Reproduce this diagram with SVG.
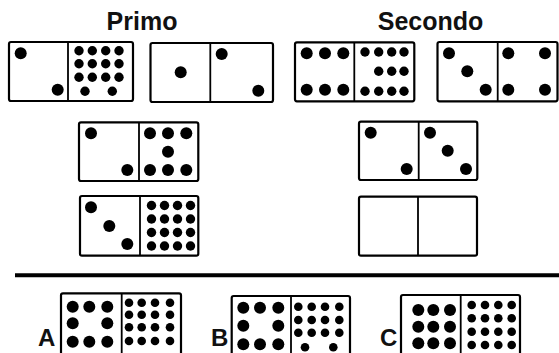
<svg xmlns="http://www.w3.org/2000/svg" width="559" height="353" viewBox="0 0 559 353">
<style>
.bg{fill:#fff}
.dom{fill:#fff;stroke:#000;stroke-width:2.2}
.dv{stroke:#000;stroke-width:1.8}
.t{font-family:"Liberation Sans",Arial,sans-serif;font-weight:bold;font-size:25px;fill:#111}
.lt{font-family:"Liberation Sans",Arial,sans-serif;font-weight:bold;font-size:24px;fill:#111}
circle{fill:#000}
.L circle{r:6px}
.S circle{r:4.7px}
.X circle{r:4.3px}
</style>
<rect class="bg" x="0" y="0" width="559" height="353"/>
<text class="t" x="142" y="30" text-anchor="middle">Primo</text>
<text class="t" x="430.5" y="30" text-anchor="middle">Secondo</text>

<g id="d1">
<rect class="dom" x="9" y="42" width="124" height="59" rx="2"/>
<line class="dv" x1="68" y1="42" x2="68" y2="101"/>
<g class="L"><circle cx="20.7" cy="53.3" r="6"/><circle cx="57.7" cy="89.7" r="6"/></g>
<g class="S">
<circle cx="79" cy="50.7" r="4.7"/><circle cx="92.3" cy="50.7" r="4.7"/><circle cx="105.7" cy="50.7" r="4.7"/><circle cx="119" cy="50.7" r="4.7"/>
<circle cx="79" cy="63.7" r="4.7"/><circle cx="92.3" cy="63.7" r="4.7"/><circle cx="105.7" cy="63.7" r="4.7"/><circle cx="119" cy="63.7" r="4.7"/>
<circle cx="79" cy="77.3" r="4.7"/><circle cx="92.3" cy="77.3" r="4.7"/><circle cx="105.7" cy="77.3" r="4.7"/><circle cx="119" cy="77.3" r="4.7"/>
<circle cx="85" cy="91.3" r="4.7"/><circle cx="112.3" cy="91.3" r="4.7"/>
</g>
</g>

<g id="d2">
<rect class="dom" x="150.5" y="43" width="122.5" height="59" rx="2"/>
<line class="dv" x1="210.3" y1="43" x2="210.3" y2="102"/>
<g class="L"><circle cx="180.7" cy="72.3" r="6"/><circle cx="221.7" cy="54" r="6"/><circle cx="258.3" cy="90.7" r="6"/></g>
</g>

<g id="d3">
<rect class="dom" x="295" y="42.3" width="119.3" height="59" rx="2"/>
<line class="dv" x1="354.3" y1="42.3" x2="354.3" y2="101.3"/>
<g class="L">
<circle cx="306.7" cy="53.3" r="6"/><circle cx="325" cy="53.3" r="6"/><circle cx="343.3" cy="53.3" r="6"/>
<circle cx="306.7" cy="89.7" r="6"/><circle cx="325" cy="89.7" r="6"/><circle cx="343.3" cy="89.7" r="6"/>
</g>
<g class="S">
<circle cx="365" cy="52" r="4.7"/><circle cx="378.7" cy="52" r="4.7"/><circle cx="391.7" cy="52" r="4.7"/><circle cx="404" cy="52" r="4.7"/>
<circle cx="378.7" cy="71.3" r="4.7"/><circle cx="391.7" cy="71.3" r="4.7"/><circle cx="404" cy="71.3" r="4.7"/>
<circle cx="365" cy="91.3" r="4.7"/><circle cx="378.7" cy="91.3" r="4.7"/><circle cx="391.7" cy="91.3" r="4.7"/><circle cx="404" cy="91.3" r="4.7"/>
</g>
</g>

<g id="d4">
<rect class="dom" x="437.5" y="42" width="120" height="59.3" rx="2"/>
<line class="dv" x1="497.7" y1="42" x2="497.7" y2="101.3"/>
<g class="L">
<circle cx="449" cy="53.3" r="6"/><circle cx="467.3" cy="71.3" r="6"/><circle cx="485.7" cy="89.7" r="6"/>
<circle cx="508.3" cy="53.3" r="6"/><circle cx="545" cy="53.3" r="6"/><circle cx="508.3" cy="89.7" r="6"/><circle cx="545" cy="89.7" r="6"/>
</g>
</g>

<g id="d5">
<rect class="dom" x="79" y="122.3" width="119.3" height="58.7" rx="2"/>
<line class="dv" x1="139" y1="122.3" x2="139" y2="181"/>
<g class="L">
<circle cx="91" cy="133.3" r="6"/><circle cx="127.3" cy="170" r="6"/>
<circle cx="150" cy="133.3" r="6"/><circle cx="168" cy="133.3" r="6"/><circle cx="186.3" cy="133.3" r="6"/>
<circle cx="168" cy="151.7" r="6"/>
<circle cx="150" cy="170" r="6"/><circle cx="168" cy="170" r="6"/><circle cx="186.3" cy="170" r="6"/>
</g>
</g>

<g id="d6">
<rect class="dom" x="80" y="196" width="118.3" height="59.7" rx="2"/>
<line class="dv" x1="140" y1="196" x2="140" y2="255.7"/>
<g class="L"><circle cx="91" cy="207.3" r="6"/><circle cx="109.3" cy="226" r="6"/><circle cx="127.3" cy="244" r="6"/></g>
<g class="S">
<circle cx="151.5" cy="205.5" r="4.7"/><circle cx="164.5" cy="205.5" r="4.7"/><circle cx="177.5" cy="205.5" r="4.7"/><circle cx="190.5" cy="205.5" r="4.7"/>
<circle cx="151.5" cy="219" r="4.7"/><circle cx="164.5" cy="219" r="4.7"/><circle cx="177.5" cy="219" r="4.7"/><circle cx="190.5" cy="219" r="4.7"/>
<circle cx="151.5" cy="232.5" r="4.7"/><circle cx="164.5" cy="232.5" r="4.7"/><circle cx="177.5" cy="232.5" r="4.7"/><circle cx="190.5" cy="232.5" r="4.7"/>
<circle cx="151.5" cy="246" r="4.7"/><circle cx="164.5" cy="246" r="4.7"/><circle cx="177.5" cy="246" r="4.7"/><circle cx="190.5" cy="246" r="4.7"/>
</g>
</g>

<g id="d7">
<rect class="dom" x="359" y="121.7" width="118.3" height="58.3" rx="2"/>
<line class="dv" x1="418.7" y1="121.7" x2="418.7" y2="180"/>
<g class="L">
<circle cx="370.7" cy="132.7" r="6"/><circle cx="406.7" cy="169" r="6"/>
<circle cx="430" cy="132.7" r="6"/><circle cx="447.7" cy="150.7" r="6"/><circle cx="466" cy="169" r="6"/>
</g>
</g>

<g id="d8">
<rect class="dom" x="359" y="196.7" width="118" height="59" rx="2"/>
<line class="dv" x1="418" y1="196.7" x2="418" y2="255.7"/>
</g>

<line x1="15" y1="275.3" x2="559" y2="275.3" stroke="#000" stroke-width="4"/>

<g id="optA">
<text class="lt" x="38" y="346">A</text>
<rect class="dom" x="61" y="293.3" width="120" height="70" rx="2"/>
<line class="dv" x1="121.7" y1="293.3" x2="121.7" y2="363"/>
<g class="L">
<circle cx="72.7" cy="306.7" r="6"/><circle cx="89.3" cy="306.7" r="6"/><circle cx="107.3" cy="306.7" r="6"/>
<circle cx="72.7" cy="323.3" r="6"/><circle cx="107.3" cy="323.3" r="6"/>
<circle cx="72.7" cy="341.7" r="6"/><circle cx="89.3" cy="341.7" r="6"/><circle cx="107.3" cy="341.7" r="6"/>
</g>
<g class="X">
<circle cx="129" cy="302.7" r="4.3"/><circle cx="141.7" cy="302.7" r="4.3"/><circle cx="155" cy="302.7" r="4.3"/><circle cx="170" cy="302.7" r="4.3"/>
<circle cx="129" cy="314.7" r="4.3"/><circle cx="141.7" cy="314.7" r="4.3"/><circle cx="155" cy="314.7" r="4.3"/><circle cx="170" cy="314.7" r="4.3"/>
<circle cx="129" cy="327.3" r="4.3"/><circle cx="141.7" cy="327.3" r="4.3"/><circle cx="155" cy="327.3" r="4.3"/><circle cx="170" cy="327.3" r="4.3"/>
<circle cx="129" cy="341" r="4.3"/><circle cx="141.7" cy="341" r="4.3"/><circle cx="155" cy="341" r="4.3"/><circle cx="170" cy="341" r="4.3"/>
</g>
</g>

<g id="optB">
<text class="lt" x="211" y="346">B</text>
<rect class="dom" x="231.7" y="296" width="118.3" height="70" rx="2"/>
<line class="dv" x1="291" y1="296" x2="291" y2="366"/>
<g class="L">
<circle cx="243.3" cy="307.7" r="6"/><circle cx="260" cy="307.7" r="6"/><circle cx="278.3" cy="307.7" r="6"/>
<circle cx="243.3" cy="325.7" r="6"/><circle cx="278.3" cy="325.7" r="6"/>
<circle cx="243.3" cy="344.3" r="6"/><circle cx="260" cy="344.3" r="6"/><circle cx="278.3" cy="344.3" r="6"/>
</g>
<g class="X">
<circle cx="298.3" cy="306.7" r="4.3"/><circle cx="311.7" cy="306.7" r="4.3"/><circle cx="325" cy="306.7" r="4.3"/><circle cx="339.3" cy="306.7" r="4.3"/>
<circle cx="298.3" cy="320" r="4.3"/><circle cx="311.7" cy="320" r="4.3"/><circle cx="325" cy="320" r="4.3"/><circle cx="339.3" cy="320" r="4.3"/>
<circle cx="298.3" cy="332.7" r="4.3"/><circle cx="311.7" cy="332.7" r="4.3"/><circle cx="325" cy="332.7" r="4.3"/><circle cx="339.3" cy="332.7" r="4.3"/>
<circle cx="305" cy="347.3" r="4.3"/><circle cx="333.3" cy="347.3" r="4.3"/>
</g>
</g>

<g id="optC">
<text class="lt" x="380" y="346">C</text>
<rect class="dom" x="401" y="295" width="119" height="70" rx="2"/>
<line class="dv" x1="460.7" y1="295" x2="460.7" y2="365"/>
<g class="L">
<circle cx="418.3" cy="310" r="6"/><circle cx="433.3" cy="310" r="6"/><circle cx="450" cy="310" r="6"/>
<circle cx="418.3" cy="326.7" r="6"/><circle cx="433.3" cy="326.7" r="6"/><circle cx="450" cy="326.7" r="6"/>
<circle cx="418.3" cy="343.3" r="6"/><circle cx="433.3" cy="343.3" r="6"/><circle cx="450" cy="343.3" r="6"/>
</g>
<g class="X">
<circle cx="471.7" cy="305" r="4.3"/><circle cx="485" cy="305" r="4.3"/><circle cx="498.3" cy="305" r="4.3"/><circle cx="511.7" cy="305" r="4.3"/>
<circle cx="471.7" cy="318.3" r="4.3"/><circle cx="485" cy="318.3" r="4.3"/><circle cx="498.3" cy="318.3" r="4.3"/><circle cx="511.7" cy="318.3" r="4.3"/>
<circle cx="471.7" cy="331.7" r="4.3"/><circle cx="485" cy="331.7" r="4.3"/><circle cx="498.3" cy="331.7" r="4.3"/><circle cx="511.7" cy="331.7" r="4.3"/>
<circle cx="471.7" cy="345" r="4.3"/><circle cx="485" cy="345" r="4.3"/><circle cx="498.3" cy="345" r="4.3"/><circle cx="511.7" cy="345" r="4.3"/>
</g>
</g>
</svg>
